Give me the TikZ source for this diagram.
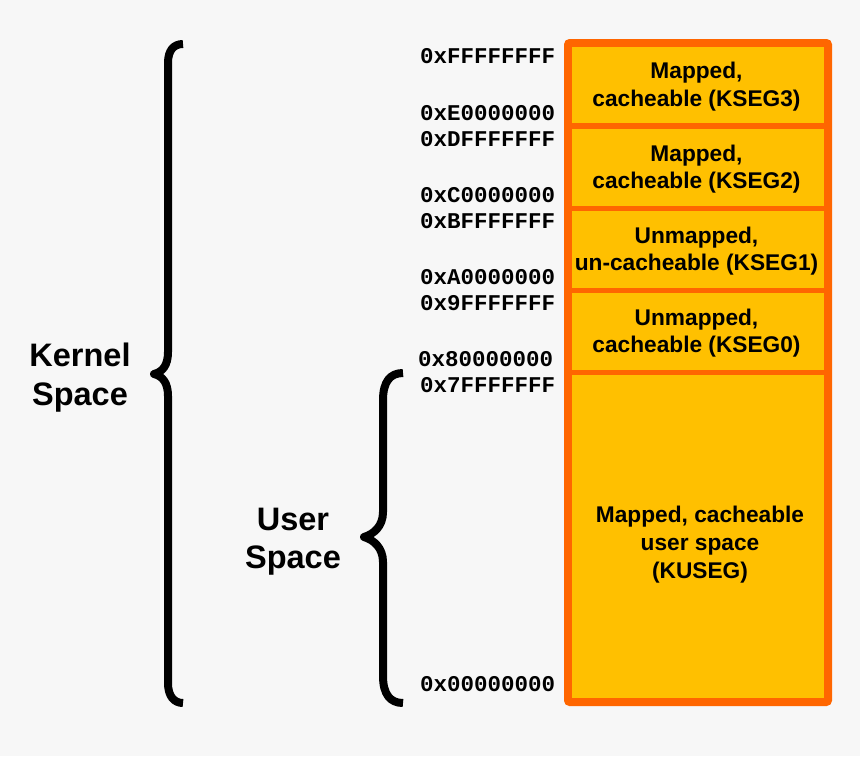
\documentclass[tikz,border=0pt]{standalone}
\usepackage{fontspec}
\newfontfamily\labsans{Liberation Sans}
\newfontfamily\labmono{Liberation Mono}
\definecolor{bgc}{HTML}{F7F7F7}
\definecolor{cellfill}{HTML}{FFC000}
\definecolor{cellline}{HTML}{FF6600}
\begin{document}
\begin{tikzpicture}[x=1pt,y=-1pt,
  cell/.style={rectangle,draw=cellline,line width=5.5pt,fill=cellfill,minimum width=257pt,inner sep=0pt},
  celltxt/.style={anchor=base,inner sep=0pt,font=\labsans\bfseries\fontsize{22.7}{27}\selectfont},
  addr/.style={anchor=base west,inner sep=0pt,font=\labmono\bfseries\fontsize{22.5}{26}\selectfont},
  big/.style={anchor=base,inner sep=0pt,font=\labsans\bfseries\fontsize{32.5}{38}\selectfont},
  bracepath/.style={draw=black,line width=8pt,line join=round}]
\fill[bgc] (0,0) rectangle (860,756);
\useasboundingbox (0,0) rectangle (860,756);
% cells
\node[cell,minimum height=81.5pt] (k3) at (698,85.25) {};
\node[cell,minimum height=82.5pt] (k2) at (698,167.25) {};
\node[cell,minimum height=82pt] (k1) at (698,249.5) {};
\node[cell,minimum height=82pt] (k0) at (698,331.5) {};
\node[cell,minimum height=328pt] (ku) at (698,536.5) {};
\draw[cellline,line width=5.5pt,rounded corners=3pt] (k3.north west) rectangle (ku.south east);
% cell texts
\node[celltxt] (t3a) at (696.5,78.5) {Mapped,};
\node[celltxt] (t3b) at (696.5,106) {cacheable (KSEG3)};
\node[celltxt] (t2a) at (696.5,161) {Mapped,};
\node[celltxt] (t2b) at (696.5,188.5) {cacheable (KSEG2)};
\node[celltxt] (t1a) at (696.5,243) {Unmapped,};
\node[celltxt] (t1b) at (696.5,270.5) {un-cacheable (KSEG1)};
\node[celltxt] (t0a) at (696.5,325) {Unmapped,};
\node[celltxt] (t0b) at (696.5,352.5) {cacheable (KSEG0)};
\node[celltxt] (tua) at (700,522) {Mapped, cacheable};
\node[celltxt] (tub) at (700,550) {user space};
\node[celltxt] (tuc) at (700,578) {(KUSEG)};
% addresses
\node[addr] (a1) at (420,63.5) {0xFFFFFFFF};
\node[addr] (a2) at (420,120) {0xE0000000};
\node[addr] (a3) at (420,146) {0xDFFFFFFF};
\node[addr] (a4) at (420,202) {0xC0000000};
\node[addr] (a5) at (420,228) {0xBFFFFFFF};
\node[addr] (a6) at (420,284) {0xA0000000};
\node[addr] (a7) at (420,310) {0x9FFFFFFF};
\node[addr] (a8) at (418,366) {0x80000000};
\node[addr] (a9) at (420,392) {0x7FFFFFFF};
\node[addr] (a10) at (420,691) {0x00000000};
% side labels
\node[big] (kern1) at (80,366.5) {Kernel};
\node[big] (kern2) at (80,405) {Space};
\node[big] (user1) at (293,530) {User};
\node[big] (user2) at (293,568) {Space};
% braces
\draw[bracepath] (183,44) .. controls (174,44) and (168,50) .. (168,63) -- (168,352)
  .. controls (168,366) and (162,372) .. (154,374)
  .. controls (162,376) and (168,382) .. (168,396) -- (168,683)
  .. controls (168,696) and (174,703) .. (183,703);
\draw[bracepath] (403,373) .. controls (390,373) and (383,382) .. (383,400) -- (383,512)
  .. controls (383,526) and (374,534) .. (364,537)
  .. controls (374,540) and (383,548) .. (383,562) -- (383,676)
  .. controls (383,694) and (390,703) .. (403,703);
\end{tikzpicture}
\end{document}
